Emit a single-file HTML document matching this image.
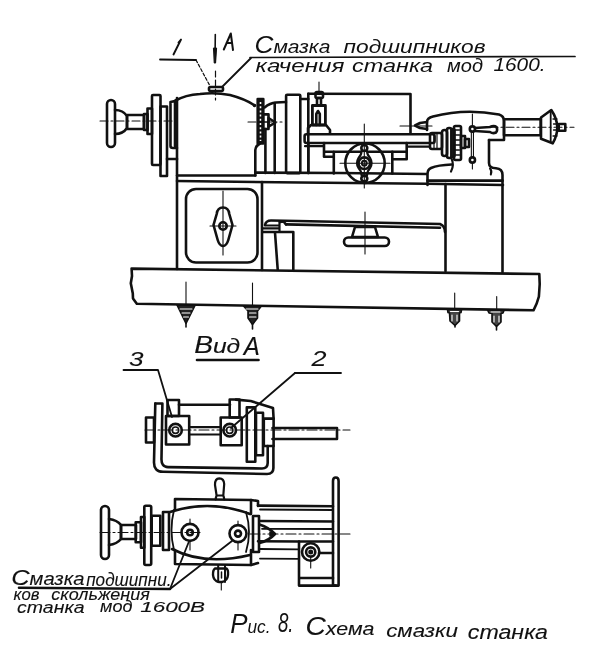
<!DOCTYPE html>
<html><head><meta charset="utf-8">
<style>
html,body{margin:0;padding:0;background:#fff;}
body{width:600px;height:649px;overflow:hidden;position:relative;}
svg{position:absolute;left:0;top:0;filter:grayscale(1);}
.t{font-family:"Liberation Sans",sans-serif;font-style:italic;fill:#111;stroke:#111;}
</style></head><body>
<svg width="600" height="649" viewBox="0 0 600 649">
<g fill="none" stroke="#111" stroke-width="2.6" stroke-linejoin="round" stroke-linecap="round">
<!-- ===== TOP ANNOTATIONS ===== -->
<path d="M160,59.5 L196,60" stroke-width="1.8"/>
<path d="M196,60 L210,86" stroke-width="1.2" stroke-dasharray="3,2"/>
<path d="M173.5,54.5 L181,39.5 L178.5,42.5" stroke-width="1.9"/>
<path d="M215.3,34.5 L215,62.5" stroke-width="1.6"/>
<path d="M213.8,48 L216.6,48 L215.6,63 L214.6,63 Z" fill="#111" stroke-width="1"/>
<path d="M223.8,49.5 L230.8,33.5 L233,50 M226.5,43 L232,43" stroke-width="2"/>
<path d="M250,57.5 L575,56.5" stroke-width="1.7"/>
<path d="M251,58 L222,87" stroke-width="1.8"/>
<rect x="209" y="87" width="14" height="4" rx="1.5"/>
<path d="M215.5,71 L215.5,100" stroke-width="1.2" stroke-dasharray="6,3"/>

<!-- ===== HEADSTOCK ===== -->
<path d="M100,121 L180,121" stroke-width="1.1" stroke-dasharray="8,3,2,3"/>
<rect x="107" y="100" width="8" height="47" rx="4"/>
<path d="M115,110 Q123,110 127,116 L127,128 Q123,134 115,134"/>
<rect x="127" y="115" width="17" height="14"/>
<rect x="144" y="114" width="3.5" height="16"/>
<rect x="147.5" y="108.5" width="4.5" height="25.5"/>
<rect x="152" y="95" width="8.5" height="70" rx="1"/>
<rect x="160.5" y="106.5" width="6.5" height="69.5"/>
<path d="M167,159 L177,159"/>
<path d="M170.5,102 L170.5,146 Q170.5,148 173,148 L177,148 M170.5,102 L175,101 L175,146"/>
<path d="M175.5,100.5 Q185,95 200,94 Q215,92 230,95 Q245,99 254,105"/>
<circle cx="254.5" cy="105.5" r="1.8" fill="#111" stroke="none"/>
<path d="M260,143.5 Q255.5,146 255.3,150 L255.3,175.5"/>
<path d="M177,98 L177,269"/>
<!-- gear, pulley -->
<rect x="257.7" y="99" width="5.6" height="44.5" fill="#111"/>
<path d="M260.5,102 L260.5,141" stroke="#fff" stroke-width="1.6" stroke-dasharray="2,2.2" stroke-linecap="butt"/>
<rect x="263" y="114.4" width="5.5" height="14.6"/>
<path d="M263,122 L268.5,122" stroke-width="1.2"/>
<path d="M268.5,118 L275.4,122.5 L268.5,126.7 Z"/>
<path d="M248,122 L282,122" stroke-width="1.1" stroke-dasharray="8,3,2,3"/>
<path d="M264.6,107.4 Q270,103 276,102.5 L286,102"/>
<path d="M265.4,129 L265.4,173 M274.7,103 L274.7,173"/>
<rect x="286.1" y="94.8" width="14.2" height="78.3" rx="1"/>
<path d="M300.4,99 L308.3,99"/>
<path d="M308.3,93.8 L308.3,173"/>
<path d="M308.3,93.8 L410.5,94 L410.5,133"/>
<!-- tool post -->
<path d="M319,82 L319,92" stroke-width="1.1"/>
<rect x="315.5" y="92" width="7.5" height="6" rx="1.5"/>
<rect x="317" y="98" width="4" height="7.5"/>
<rect x="312.4" y="105.5" width="13" height="19.5" stroke-width="2.8"/>
<path d="M316.3,125 L316.3,114 L318,111 L319.8,114 L319.8,125"/>
<path d="M308,133 L308,128 L311,125 L326,125 L330,130 L330,133"/>

<!-- carriage / cross slide -->
<rect x="304.6" y="134.2" width="130" height="8.8" rx="2"/>
<path d="M324,143 L324,156.8 L333.8,156.8 M333.8,151.5 L333.8,173.5 M324,151.5 L406.7,151.8"/>
<path d="M406.7,143 L406.7,159.3 L392.3,159.3 M392.3,151.8 L392.3,173.5"/>
<path d="M305,146.2 L323.5,146.2 M407.5,146.7 L430,146.7" stroke-width="2.2"/>
<path d="M308.3,143 L308.3,173"/>
<circle cx="365" cy="163.2" r="19.7"/>
<path d="M361.6,151 Q361.5,155 358.5,158 Q355.5,163 358.5,168 Q361.5,171 361.6,175.5 L367,175.5 Q367.1,171 370.1,168 Q373.1,163 370.1,158 Q367.1,155 367,151 Z" fill="#fff" stroke-width="2.2"/>
<circle cx="364.3" cy="148" r="3"/>
<circle cx="364.3" cy="178.6" r="3"/>
<circle cx="364.3" cy="163.2" r="5.8" stroke-width="2.6"/>
<circle cx="364.3" cy="163.2" r="2.4" stroke-width="2"/>
<path d="M364.3,124 L364.3,188" stroke-width="1.1"/>
<path d="M340,163.2 L390,163.2" stroke-width="1.1"/>
<!-- tailstock -->
<path d="M427,130 L427,122 Q427,118 433,116.5 Q465,108 499,114.5 Q504,116 504,121 L504,140 L489,140"/>
<path d="M400,126 L432,126" stroke-width="1.1"/>
<path d="M427,122 L420,123 L415,125.5 L420,128 L427,129"/>
<rect x="430" y="133" width="12" height="16" rx="2"/>
<path d="M434,133 L434,149 M437,133 L437,149" stroke-width="1.2"/>
<rect x="442" y="130" width="5" height="26" rx="2.5"/>
<rect x="447" y="128" width="4.5" height="30" rx="2"/>
<rect x="451.5" y="129" width="3" height="28" rx="1.5"/>
<rect x="454" y="126" width="7" height="34" rx="1.5"/>
<path d="M455.5,130 L459.5,130 M455.5,135 L459.5,135 M455.5,140 L459.5,140 M455.5,145 L459.5,145 M455.5,150 L459.5,150 M455.5,155 L459.5,155" stroke-width="1.3"/>
<rect x="461" y="136" width="4" height="12"/>
<rect x="465" y="139" width="4" height="8"/>
<path d="M472.4,114 L472.4,169" stroke-width="1.1"/>
<path d="M472.4,130 L472.4,159" stroke-width="3.2"/>
<path d="M472.4,131 L472.4,158" stroke="#fff" stroke-width="1"/>
<circle cx="472.4" cy="129" r="2.6" fill="#fff"/>
<circle cx="472.4" cy="160" r="2.6" fill="#fff"/>
<path d="M475,128 L490,127 Q494,125 496.5,127 Q498,130 496,132.5 Q493,134 490,132 L475,131"/>
<path d="M489,140 L489,163 Q489,168 496,168.3 Q502.5,168.8 502.5,175 L502.5,272"/>
<path d="M490,168.5 Q492.3,171 490.8,174.5" stroke-width="2"/>
<path d="M451.5,158.5 Q454.5,165 451,171.5" stroke-width="2.2"/>
<path d="M451.7,164.5 Q438,165 431,168 Q427.5,169.5 427.5,174 L427.5,185"/>
<rect x="504" y="119.3" width="36.7" height="16"/>
<path d="M541,117.5 L551.3,110 Q562.5,126.7 552.7,143.3 L541,138.7 Z"/>
<path d="M550.7,111.5 L550.7,142" stroke-width="1.8"/>
<path d="M553,119 L557,119 M553.5,124 L558,124 M553.5,130 L558,130 M553,136 L557,136" stroke-width="1.3"/>
<rect x="558.7" y="124" width="6.6" height="6.7"/>
<path d="M490,127.3 L574,127.3" stroke-width="1.1" stroke-dasharray="8,3,2,3"/>

<!-- ===== BED / CABINET ===== -->
<path d="M177,175.5 L255.3,175.5 M255.3,172.6 L340,173 L427,174"/>
<path d="M177,181 L300,182.5 L427,183.8 L503,185"/>
<path d="M427.5,180.7 L502.5,180.7" stroke-width="2.8"/>
<path d="M262,182 L262,270"/>
<path d="M445.5,184 L445.5,271"/>
<rect x="186" y="189" width="71.5" height="73.5" rx="10"/>
<path d="M223,191 L223,255" stroke-width="1.1"/>
<path d="M210,226 L236,226" stroke-width="1.1"/>
<path d="M223,207.5 Q228.5,207.5 229.3,214 L232.5,225 L228.3,240 Q226.5,246 223,246 Q219.5,246 217.7,240 L213.5,225 L216.7,214 Q217.5,207.5 223,207.5 Z"/>
<circle cx="223" cy="226" r="3.7"/>
<!-- drip tray -->
<path d="M265,225 Q266,220.5 271,220.5 L298,221 L440,224 Q445,226 445,232"/>
<path d="M286,224.4 L440,227.8"/>
<path d="M280,222 L283.5,221.5 L286,224.4"/>
<path d="M265,225.5 L279.5,225.5 M263,228.3 L279.5,228.3 M279.5,221.5 L279.5,231" stroke-width="2.2"/>
<path d="M263,232 L293.3,232 L293.3,269.5"/>
<path d="M275,232.5 L277.7,269.5"/>
<path d="M355,227 L375,227 L378,237 L352,237 Z"/>
<rect x="344" y="237.5" width="45" height="8.5" rx="4.2"/>
<path d="M365,212 L365,254" stroke-width="1.1"/>
<!-- base -->
<path d="M131.6,268.6 L539.3,274 L539.7,284 L538.9,296.5 Q537,304 533.5,310.3 L136.8,303.8 L133,298.5 L132.8,293.6 L130.8,283.2 L132,276 Z"/>
<path d="M186,282 L186,304 M252.5,283 L252.5,305 M454.7,293 L454.7,309 M496.7,296.5 L496.7,310" stroke-width="1.1"/>
<!-- feet -->
<g stroke-width="1.6">
<path d="M177,305 L195,305.5 L186,323.5 Z" fill="#222"/>
<path d="M180,309 L192,309 M182,313 L190,313 M183.5,317 L188.5,317" stroke="#fff" stroke-width="1.1"/>
<path d="M186,323 L186,327"/>
<path d="M243.5,306 L261,306.5 L257.5,311 L257.5,318 L252.5,324.5 L248,318 L248,311 Z" fill="#222"/>
<path d="M246,309 L258,309 M249.5,313 L256,313 M249.5,317 L256,317" stroke="#fff" stroke-width="1.1"/>
<path d="M252.5,324 L252.5,329"/>
<path d="M447.5,309.5 L461.5,310 L461,312.5 L459.5,313 L459.5,321 L455,325.5 L450,321 L449.5,313 L448,312.5 Z" fill="#444"/>
<path d="M450.5,311.5 L458.5,311.5 M452,315 L452,321 M457,315 L457,321" stroke="#fff" stroke-width="1.1"/>
<path d="M455,325 L455,327"/>
<path d="M487.5,310 L504,310.5 L503,313 L501,313.5 L501,322 L496.5,326.5 L492,322 L492,313.5 L489,313 Z" fill="#444"/>
<path d="M491,312 L500,312 M494,316 L494,322 M499,316 L499,322" stroke="#fff" stroke-width="1.1"/>
<path d="M496.5,326 L496.5,330"/>
</g>
<!-- ===== VIEW A ===== -->
<path d="M197,360 L258.5,360"/>
<path d="M123.5,370 L158,370 L172,417" stroke-width="1.8"/>
<path d="M295,373 L341,373" stroke-width="1.8"/>
<path d="M295,373 L231,428" stroke-width="1.8"/>
<path d="M145,430 L350,430" stroke-width="1.1" stroke-dasharray="10,3,2,3"/>
<rect x="146" y="417.5" width="8" height="25"/>
<path d="M155.3,403.5 L162.4,403.5 L161.5,458 Q161,467 168,467.1 L262,468.5 Q267.6,468.5 267.7,463 L267.7,446"/>
<path d="M155.3,403.5 L154.5,440 L154,462 Q153.8,471.7 163,471.8 L267,474 Q273.4,474 273.4,468 L273.4,446"/>
<rect x="167.5" y="400" width="11.5" height="16"/>
<rect x="166" y="416" width="23.2" height="28.5"/>
<circle cx="175.5" cy="430.2" r="6.3"/>
<circle cx="175.5" cy="430.2" r="3.2" stroke-width="1.6"/>
<path d="M179,404.7 L230,404.7" stroke-width="2.6"/>
<path d="M189,427.2 L221,427.2 M189,434.5 L221,434.5" stroke-width="2.2"/>
<rect x="229.7" y="399.5" width="9.8" height="18"/>
<rect x="220.7" y="417.5" width="21" height="27.7"/>
<circle cx="229.7" cy="430.2" r="6.3"/>
<circle cx="229.7" cy="430.2" r="3.2" stroke-width="1.6"/>
<path d="M236,399.6 L250.7,401 L273,408 L273.6,418.6"/>
<rect x="246.8" y="407.4" width="8.5" height="54.4"/>
<rect x="256" y="412.7" width="7" height="42.5"/>
<rect x="263.8" y="418.6" width="9.8" height="27.4"/>
<path d="M272.5,428 L337,428 L337,439 L272.5,439"/>

<!-- ===== LOWER VIEW ===== -->
<path d="M100,532.5 L200,532.5" stroke-width="1.1" stroke-dasharray="10,3,2,3"/>
<rect x="101" y="506" width="8" height="53" rx="4"/>
<path d="M109,519 Q117,520 121,525 L121,539 Q117,544 109,545"/>
<rect x="121" y="525" width="15" height="14"/>
<rect x="135.7" y="522.3" width="5.3" height="20"/>
<rect x="141" y="517" width="3.3" height="30.7"/>
<rect x="144.3" y="505.7" width="6.9" height="59.3" rx="1.5"/>
<rect x="151.7" y="515.7" width="8.6" height="30"/>
<rect x="163" y="512" width="6" height="38"/>
<path d="M175,510 L175,499 L251,500 L258,501 L258,506"/>
<path d="M175,550 L175,564 L251,565 L258,563"/>
<path d="M170,512 Q210,499 250,514"/>
<path d="M172,549 Q205,566 250,555"/>
<path d="M174,510 Q169,530 174,550 M246,512 Q252,532 246,552" stroke-width="1.8"/>
<path d="M251,500 L251,514 M251,550 L251,565"/>
<path d="M216.6,495.5 L215,485 Q214.8,478.5 219.3,478.3 Q224,478.5 224.2,484 L223.3,495.5 Z M216.6,495.5 Q215.6,498 215.8,499.5 M223.3,495.5 Q224.3,498 224.2,499.5" stroke-width="2.2"/>
<circle cx="190" cy="532.4" r="8.5"/>
<path d="M190,519 L190,523 M190,542 L190,550 M238,521 L238,524 M238,543 L238,550" stroke-width="1.1"/>
<circle cx="190" cy="532.5" r="2.8"/>
<circle cx="238" cy="533.6" r="8.5"/>
<circle cx="238" cy="533.6" r="3"/>
<rect x="253" y="516" width="6" height="36"/>
<path d="M259.5,524.5 Q269,527.5 275,534 Q269,540.5 259.5,543"/>
<path d="M270,532 L275,534 L270,536 Z" fill="#111" stroke-width="1.5"/>
<path d="M258,505.6 L333,506.2 M258,541.3 L299,541.5 L333,541.5"/>
<path d="M260,509.5 L333,510 M262,528.8 L333,529" stroke-width="1.8"/>
<path d="M260,521 L333,521.5" stroke-width="2.6"/>
<path d="M260,549 L299,549.3 M260,558.6 L299,558.8" stroke-width="1.8"/>
<path d="M333,481 Q333,477.5 335.8,477.5 Q338.6,477.5 338.6,481 L338.6,585.6 L333,585.6 Z"/>
<path d="M299,541.5 L299,585.6 L335.7,585.6 M299,578 L333,578 M319,553 L333,553"/>
<circle cx="310.7" cy="552" r="8.7"/>
<circle cx="310.7" cy="552" r="4.6"/>
<circle cx="310.7" cy="552" r="1.2" fill="#111"/>
<path d="M310.7,557 L310.7,568" stroke-width="1.1"/>
<path d="M250,534 L350,534" stroke-width="1.1" stroke-dasharray="10,3,2,3"/>
<path d="M215,568.5 L226.5,568.5 Q228.5,570 228,575 Q227.5,581 222,582 L219,582 Q213.5,581 213,575 Q212.8,570 215,568.5 Z" stroke-width="2.4"/>
<path d="M218.2,565 L218.2,582 M225,565 L225,582" stroke-width="2"/>
<path d="M221.5,572 L221.5,578" stroke-width="1.5"/>
<path d="M221.3,582 L221.3,590" stroke-width="1.1"/>
<path d="M19,587.8 L170,589"/>
<path d="M170,589 L188.75,542" stroke-width="1.8"/>
<path d="M170,589 L232,541" stroke-width="1.8"/>
</g>

<!-- ===== TEXT ===== -->
<g class="t">
<text x="254.5" y="52.5" font-size="18.5" stroke-width="0" textLength="76.0" lengthAdjust="spacingAndGlyphs"><tspan font-size="23">С</tspan>мазка</text>
<text x="343.5" y="52.5" font-size="18.5" stroke-width="0" textLength="142.0" lengthAdjust="spacingAndGlyphs">подшипников</text>
<text x="255.5" y="72.3" font-size="19" stroke-width="0" textLength="89.0" lengthAdjust="spacingAndGlyphs">качения</text>
<text x="352.0" y="72.3" font-size="19" stroke-width="0" textLength="81.0" lengthAdjust="spacingAndGlyphs">станка</text>
<text x="447.0" y="72" font-size="19" stroke-width="0" textLength="36.0" lengthAdjust="spacingAndGlyphs">мод</text>
<text x="493.5" y="71" font-size="18" stroke-width="0" textLength="52.0" lengthAdjust="spacingAndGlyphs">1600.</text>
<text x="194.2" y="352.5" font-size="21" stroke-width="0.15" textLength="46.0" lengthAdjust="spacingAndGlyphs"><tspan font-size="24">В</tspan>ид</text>
<text x="243.7" y="354.5" font-size="21" stroke-width="0.15" textLength="16.0" lengthAdjust="spacingAndGlyphs"><tspan font-size="26">А</tspan></text>
<text x="129.0" y="366" font-size="21" stroke-width="0.1" textLength="14.5" lengthAdjust="spacingAndGlyphs">3</text>
<text x="311.5" y="366" font-size="22" stroke-width="0.1" textLength="15.0" lengthAdjust="spacingAndGlyphs">2</text>
<text x="11.2" y="585" font-size="17.5" stroke-width="0.1" textLength="73.3" lengthAdjust="spacingAndGlyphs"><tspan font-size="22">С</tspan>мазка</text>
<text x="86.2" y="585.5" font-size="17.5" stroke-width="0.1" textLength="85.3" lengthAdjust="spacingAndGlyphs">подшипни.</text>
<text x="13.5" y="600" font-size="16" stroke-width="0.1" textLength="26.0" lengthAdjust="spacingAndGlyphs">ков</text>
<text x="51.2" y="599.7" font-size="16" stroke-width="0.1" textLength="98.6" lengthAdjust="spacingAndGlyphs">скольжения</text>
<text x="17.0" y="612.5" font-size="16.5" stroke-width="0.1" textLength="67.5" lengthAdjust="spacingAndGlyphs">станка</text>
<text x="100.1" y="612" font-size="16.5" stroke-width="0.1" textLength="32.4" lengthAdjust="spacingAndGlyphs">мод</text>
<text x="140.2" y="611.8" font-size="14.5" stroke-width="0.1" textLength="64.9" lengthAdjust="spacingAndGlyphs">1600В</text>
<text x="230.2" y="633" font-size="18" stroke-width="0" textLength="40.3" lengthAdjust="spacingAndGlyphs"><tspan font-size="27">Р</tspan>ис.</text>
<text x="277.9" y="632" font-size="28" stroke-width="0" textLength="15.6" lengthAdjust="spacingAndGlyphs">8.</text>
<text x="305.5" y="634.5" font-size="19" stroke-width="0.1" textLength="69.0" lengthAdjust="spacingAndGlyphs"><tspan font-size="25">С</tspan>хема</text>
<text x="386.2" y="636.7" font-size="19" stroke-width="0.1" textLength="71.8" lengthAdjust="spacingAndGlyphs">смазки</text>
<text x="467.8" y="639" font-size="20" stroke-width="0.1" textLength="80.2" lengthAdjust="spacingAndGlyphs">станка</text>
</g>
</svg>
</body></html>
